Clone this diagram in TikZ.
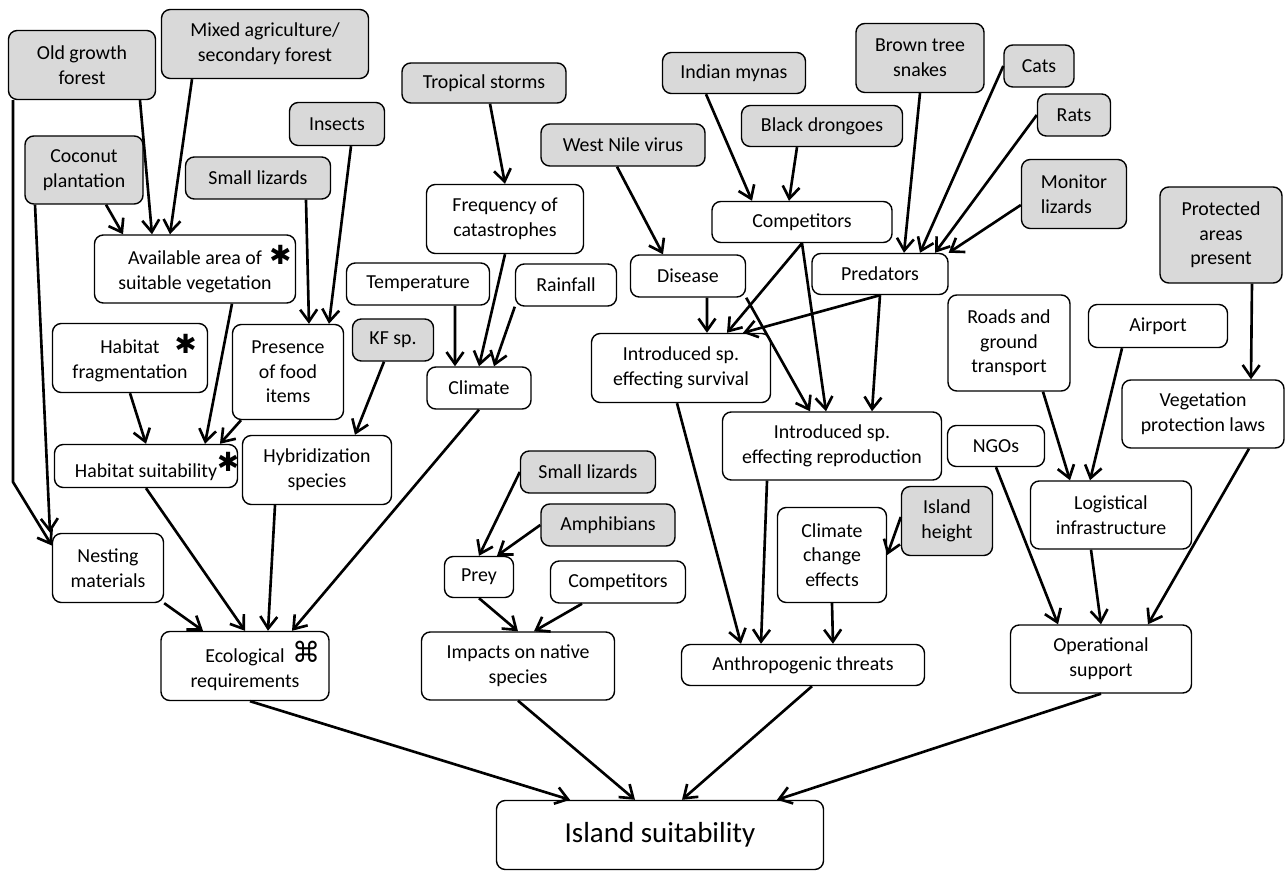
\documentclass[tikz,border=0pt]{standalone}
\usepackage{fontspec}
\setmainfont{Carlito}
\newfontfamily\symfont{DejaVu Sans}
\usetikzlibrary{arrows.meta}

\newcommand{\bigast}{{\symfont\fontsize{15}{15}\selectfont ✱}}
\newcommand{\cmdsym}{{\symfont\fontsize{16}{16}\selectfont ⌘}}

\tikzset{
	box/.style={draw, rounded corners=5pt, line width=0.8pt, align=center, inner sep=2pt,
		font=\fontsize{11.3}{14}\selectfont},
	ext/.style={box, fill=black!15},
	wh/.style 2 args={minimum width=#1*0.02cm, minimum height=#2*0.02cm},
	arr/.style={line width=1.5pt, -{Straight Barb[length=2.4mm,width=3.4mm]}},
}

\begin{document}
\begin{tikzpicture}[x=0.02cm, y=-0.02cm]
\useasboundingbox (0,0) rectangle (1286,871);

% outside drivers (grey)
\node[ext, wh={147}{69}] (og) at (82,65) {Old growth\\forest};
\node[ext, wh={207}{69}] (mix) at (265,44) {Mixed agriculture/\\secondary forest};
\node[ext, wh={118}{68}] (coco) at (84,170) {Coconut\\plantation};
\node[ext, wh={95}{43}] (ins) at (337,124) {Insects};
\node[ext, wh={145}{42}] (sliz) at (258,178) {Small lizards};
\node[ext, wh={164}{40}] (storm) at (484,83) {Tropical storms};
\node[ext, wh={81}{42}] (kf) at (393,340) {KF sp.};
\node[ext, wh={164}{42}] (wnv) at (623,145) {West Nile virus};
\node[ext, wh={143}{41}] (myna) at (734,73) {Indian mynas};
\node[ext, wh={161}{41}] (drongo) at (822,126) {Black drongoes};
\node[ext, wh={128}{69}] (bts) at (920,58) {Brown tree\\snakes};
\node[ext, wh={70}{42}] (cats) at (1039,66) {Cats};
\node[ext, wh={73}{42}] (rats) at (1074,115) {Rats};
\node[ext, wh={105}{69}, align=left] (mon) at (1074,194) {Monitor\\lizards};
\node[ext, wh={122}{96}] (prot) at (1221,235) {Protected\\areas\\present};
\node[ext, wh={135}{42}] (slizb) at (588,472) {Small lizards};
\node[ext, wh={134}{42}] (amph) at (608,525) {Amphibians};
\node[ext, wh={91}{69}] (ihgt) at (947,521) {Island\\height};

% model nodes
\node[box, wh={201}{68}] (avail) at (195,269) {Available area of\rlap{\hspace{1.5mm}\bigast}\\suitable vegetation};
\node[box, wh={155}{69}] (hfrag) at (130,358) {Habitat\rlap{\hspace{3mm}\bigast}\\fragmentation};
\node[box, wh={111}{95}] (food) at (288,372) {Presence\\of food\\items};
\node[box, wh={183}{43}] (hsuit) at (146,466) {Habitat suitability\rlap{\raisebox{1.2mm}{\bigast}}};
\node[box, wh={149}{69}] (hyb) at (317,470) {Hybridization\\species};
\node[box, wh={111}{69}] (nest) at (108,568) {Nesting\\materials};
\node[box, wh={168}{69}] (eco) at (245,666) {Ecological\rlap{\hspace{1.5mm}\cmdsym}\\requirements};
\node[box, wh={157}{69}] (freq) at (505,219) {Frequency of\\catastrophes};
\node[box, wh={143}{42}] (temp) at (418,284) {Temperature};
\node[box, wh={101}{42}] (rain) at (566,285) {Rainfall};
\node[box, wh={104}{42}] (clim) at (479,388) {Climate};
\node[box, wh={69}{41}] (prey) at (479,577) {Prey};
\node[box, wh={135}{42}] (compb) at (618,582) {Competitors};
\node[box, wh={193}{68}] (imp) at (518,666) {Impacts on native\\species};
\node[box, wh={180}{41}] (comp) at (802,222) {Competitors};
\node[box, wh={115}{42}] (dis) at (688,276) {Disease};
\node[box, wh={136}{41}] (pred) at (880,274) {Predators};
\node[box, wh={179}{69}] (isurv) at (681,368) {Introduced sp.\\effecting survival};
\node[box, wh={219}{68}] (irepr) at (832,446) {Introduced sp.\\effecting reproduction};
\node[box, wh={109}{95}] (cce) at (832,555) {Climate\\change\\effects};
\node[box, wh={243}{41}] (anth) at (803,665) {Anthropogenic threats};
\node[box, wh={122}{96}] (roads) at (1009,343) {Roads and\\ground\\transport};
\node[box, wh={139}{43}] (airport) at (1158,326) {Airport};
\node[box, wh={162}{68}] (veg) at (1203,414) {Vegetation\\protection laws};
\node[box, wh={97}{41}] (ngo) at (996,446) {NGOs};
\node[box, wh={161}{68}] (logi) at (1111,515) {Logistical\\infrastructure};
\node[box, wh={181}{68}] (oper) at (1101,659) {Operational\\support};
\node[box, wh={327}{69}, font=\fontsize{16.5}{20}\selectfont] (isl) at (660,835) {Island suitability};

\coordinate (ogbend) at (13,482);

% ecological branch
\draw[arr] ([xshift=-1.38cm]og.south) -- (ogbend) -- ([yshift=0.45cm]nest.west);
\draw[arr] ([xshift=-0.98cm]coco.south) -- ([xshift=-1.16cm]nest.north);
\draw[arr] ([xshift=1.16cm]og.south) -- ([xshift=-0.86cm]avail.north);
\draw[arr] ([xshift=-1.46cm]mix.south) -- ([xshift=-0.5cm]avail.north);
\draw[arr] ([xshift=0.44cm]coco.south) -- ([xshift=-1.44cm]avail.north);
\draw[arr] ([xshift=0.28cm]ins.south) -- ([xshift=0.82cm]food.north);
\draw[arr] ([xshift=0.96cm]sliz.south) -- ([xshift=0.42cm]food.north);
\draw[arr] ([xshift=0.74cm]avail.south) -- ([xshift=1.18cm]hsuit.north);
\draw[arr] ([xshift=-0.94cm]food.south) -- ([xshift=1.48cm]hsuit.north);
\draw[arr] (hfrag.south) -- (hsuit.north);
\draw[arr] ([xshift=-0.18cm]kf.south) -- ([xshift=0.76cm]hyb.north);
\draw[arr] (nest.south east) -- ([xshift=-0.84cm]eco.north);
\draw[arr] (hsuit.south) -- (eco.north);
\draw[arr] ([xshift=-0.84cm]hyb.south) -- ([xshift=0.46cm]eco.north);
\draw[arr] (clim.south) -- ([xshift=0.94cm]eco.north);

% climate
\draw[arr] ([xshift=0.12cm]storm.south) -- (freq.north);
\draw[arr] (freq.south) -- (clim.north);
\draw[arr] ([xshift=0.74cm]temp.south) -- ([xshift=-0.48cm]clim.north);
\draw[arr] (rain.south west) -- ([xshift=0.3cm]clim.north);

% native species
\draw[arr] (slizb.west) -- (prey.north);
\draw[arr] (amph.west) -- ([xshift=0.36cm]prey.north);
\draw[arr] (prey.south) -- (imp.north);
\draw[arr] ([xshift=-0.72cm]compb.south) -- ([xshift=0.32cm]imp.north);

% introduced species
\draw[arr] ([xshift=-0.12cm]wnv.south) -- ([xshift=-0.5cm]dis.north);
\draw[arr] ([xshift=-0.56cm]myna.south) -- ([xshift=-1cm]comp.north);
\draw[arr] ([xshift=-0.5cm]drongo.south) -- ([xshift=-0.26cm]comp.north);
\draw[arr] (bts.south) -- ([xshift=0.48cm]pred.north);
\draw[arr] (cats.west) -- ([xshift=0.8cm]pred.north);
\draw[arr] (rats.west) -- ([xshift=1.1cm]pred.north);
\draw[arr] ([yshift=-0.22cm]mon.west) -- (pred.north east);
\draw[arr] (comp.south) -- ([xshift=0.92cm]isurv.north);
\draw[arr] (comp.south) -- ([xshift=-0.12cm]irepr.north);
\draw[arr] ([xshift=0.38cm]dis.south) -- ([xshift=0.52cm]isurv.north);
\draw[arr] (dis.south east) -- ([xshift=-0.44cm]irepr.north);
\draw[arr] (pred.south) -- ([xshift=1.24cm]isurv.north);
\draw[arr] (pred.south) -- ([xshift=0.8cm]irepr.north);
\draw[arr] ([xshift=-0.08cm]isurv.south) -- ([xshift=-1.24cm]anth.north);
\draw[arr] ([xshift=-1.3cm]irepr.south) -- ([xshift=-0.84cm]anth.north);
\draw[arr] ([yshift=0.08cm]ihgt.west) -- (cce.east);
\draw[arr] (cce.south) -- ([xshift=0.6cm]anth.north);

% operations
\draw[arr] ([xshift=0.62cm]prot.south) -- ([xshift=0.96cm]veg.north);
\draw[arr] ([xshift=0.68cm]roads.south) -- ([xshift=-0.82cm]logi.north);
\draw[arr] ([xshift=-0.72cm]airport.south) -- ([xshift=-0.42cm]logi.north);
\draw[arr] (ngo.south) -- ([xshift=-0.86cm]oper.north);
\draw[arr] ([xshift=-0.4cm]logi.south) -- (oper.north);
\draw[arr] ([xshift=0.92cm]veg.south) -- ([xshift=0.94cm]oper.north);

% to the goal
\draw[arr] ([xshift=0.1cm]eco.south) -- ([xshift=-1.8cm]isl.north);
\draw[arr] (imp.south) -- ([xshift=-0.5cm]isl.north);
\draw[arr] ([xshift=0.18cm]anth.south) -- ([xshift=0.44cm]isl.north);
\draw[arr] (oper.south) -- ([xshift=2.34cm]isl.north);
\end{tikzpicture}
\end{document}
